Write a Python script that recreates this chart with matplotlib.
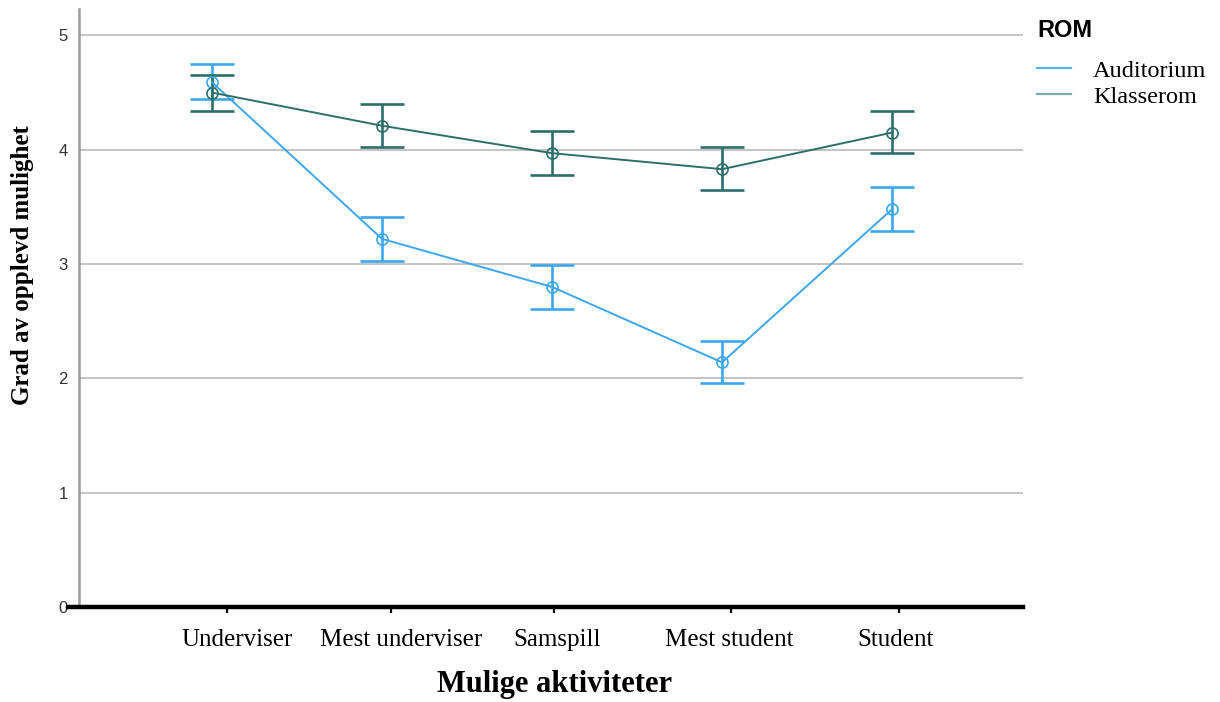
import numpy as np
import matplotlib
matplotlib.use('Agg')
import matplotlib.pyplot as plt
from matplotlib.lines import Line2D

# data: gjennomsnitt med feilgrenser per aktivitet og rom
aktiviteter = ['Underviser', 'Mest underviser', 'Samspill', 'Mest student', 'Student']
rom = ['Auditorium', 'Klasserom']

aud_mean = [4.59, 3.22, 2.80, 2.14, 3.48]
aud_low = [4.44, 3.03, 2.61, 1.96, 3.29]
aud_high = [4.75, 3.41, 2.99, 2.33, 3.67]

kls_mean = [4.50, 4.21, 3.97, 3.83, 4.15]
kls_low = [4.34, 4.02, 3.78, 3.65, 3.97]
kls_high = [4.65, 4.40, 4.16, 4.02, 4.34]

# plassering av tick-merker og etiketter langs x-aksen
tick_pos = [0.09, 1.05, 2.01, 3.05, 4.04]
label_pos = [0.15, 1.11, 2.03, 3.04, 4.02]

farger = {'Auditorium': '#3fa6ee', 'Klasserom': '#2c6f6a'}
legend_farger = {'Auditorium': '#56b2f2', 'Klasserom': '#79aca7'}

serif = 'Liberation Serif'
sans = 'Liberation Sans'

fig = plt.figure(figsize=(12.2, 7.02), dpi=100)
ax = fig.add_axes([0.0648, 0.1353, 0.7737, 0.8517])

x = np.arange(len(aktiviteter))

serier = {
    'Auditorium': (aud_mean, aud_low, aud_high),
    'Klasserom': (kls_mean, kls_low, kls_high),
}

for navn in rom:
    m, lo, hi = serier[navn]
    m = np.array(m)
    yerr = [m - np.array(lo), np.array(hi) - m]
    c = farger[navn]
    ax.errorbar(x, m, yerr=yerr, fmt='none', ecolor=c, elinewidth=1.9,
                capsize=15.5, capthick=1.9, zorder=3)
    ax.plot(x, m, color=c, lw=1.4, marker='o', markersize=8,
            markerfacecolor='none', markeredgecolor=c, markeredgewidth=1.2,
            zorder=4)

ax.set_xlim(-0.782, 4.77)
ax.set_ylim(0, 5.23)

# rutenett
for v in [1, 2, 3, 4, 5]:
    ax.axhline(v, color='#c4c4c4', lw=1.4, zorder=1)

ax.set_yticks([0, 1, 2, 3, 4, 5])
ax.set_yticklabels(['0', '1', '2', '3', '4', '5'], fontfamily=sans,
                   fontsize=12, color='#333333')
ax.tick_params(axis='y', length=0, pad=8)

# etiketter på major, små tick-merker på minor
ax.set_xticks(label_pos)
ax.set_xticklabels(aktiviteter, fontfamily=serif, fontsize=18)
ax.tick_params(axis='x', which='major', length=0, pad=16)
ax.set_xticks(tick_pos, minor=True)
ax.tick_params(axis='x', which='minor', length=4, width=1.6, color='black')

for s in ['top', 'right', 'bottom']:
    ax.spines[s].set_visible(False)
ax.spines['left'].set_color('#9a9a9a')
ax.spines['left'].set_linewidth(1.8)

# tykk x-akse
ax.add_line(Line2D([-0.012, 1.0], [0, 0], transform=ax.transAxes,
                   color='black', lw=3.2, clip_on=False, zorder=5))

ax.set_xlabel('Mulige aktiviteter', fontfamily=serif, fontweight='bold',
              fontsize=22)
ax.xaxis.set_label_coords(0.504, -0.106)
ax.set_ylabel('Grad av opplevd mulighet', fontfamily=serif,
              fontweight='bold', fontsize=18)
ax.yaxis.set_label_coords(-0.048, 0.572)

# legende
fig.text(1037 / 1220, 0.957, 'ROM', fontfamily=sans, fontweight='bold',
         fontsize=17, va='center', ha='left')
handles = [Line2D([], [], color=legend_farger[n], lw=1.6) for n in rom]
fig.legend(handles, rom, loc='upper left', bbox_to_anchor=(0.842, 0.929),
           frameon=False, handlelength=1.4, handletextpad=0.9,
           labelspacing=0.17, borderaxespad=0,
           prop={'family': serif, 'size': 17.5})

plt.savefig('out.png', dpi=100)
